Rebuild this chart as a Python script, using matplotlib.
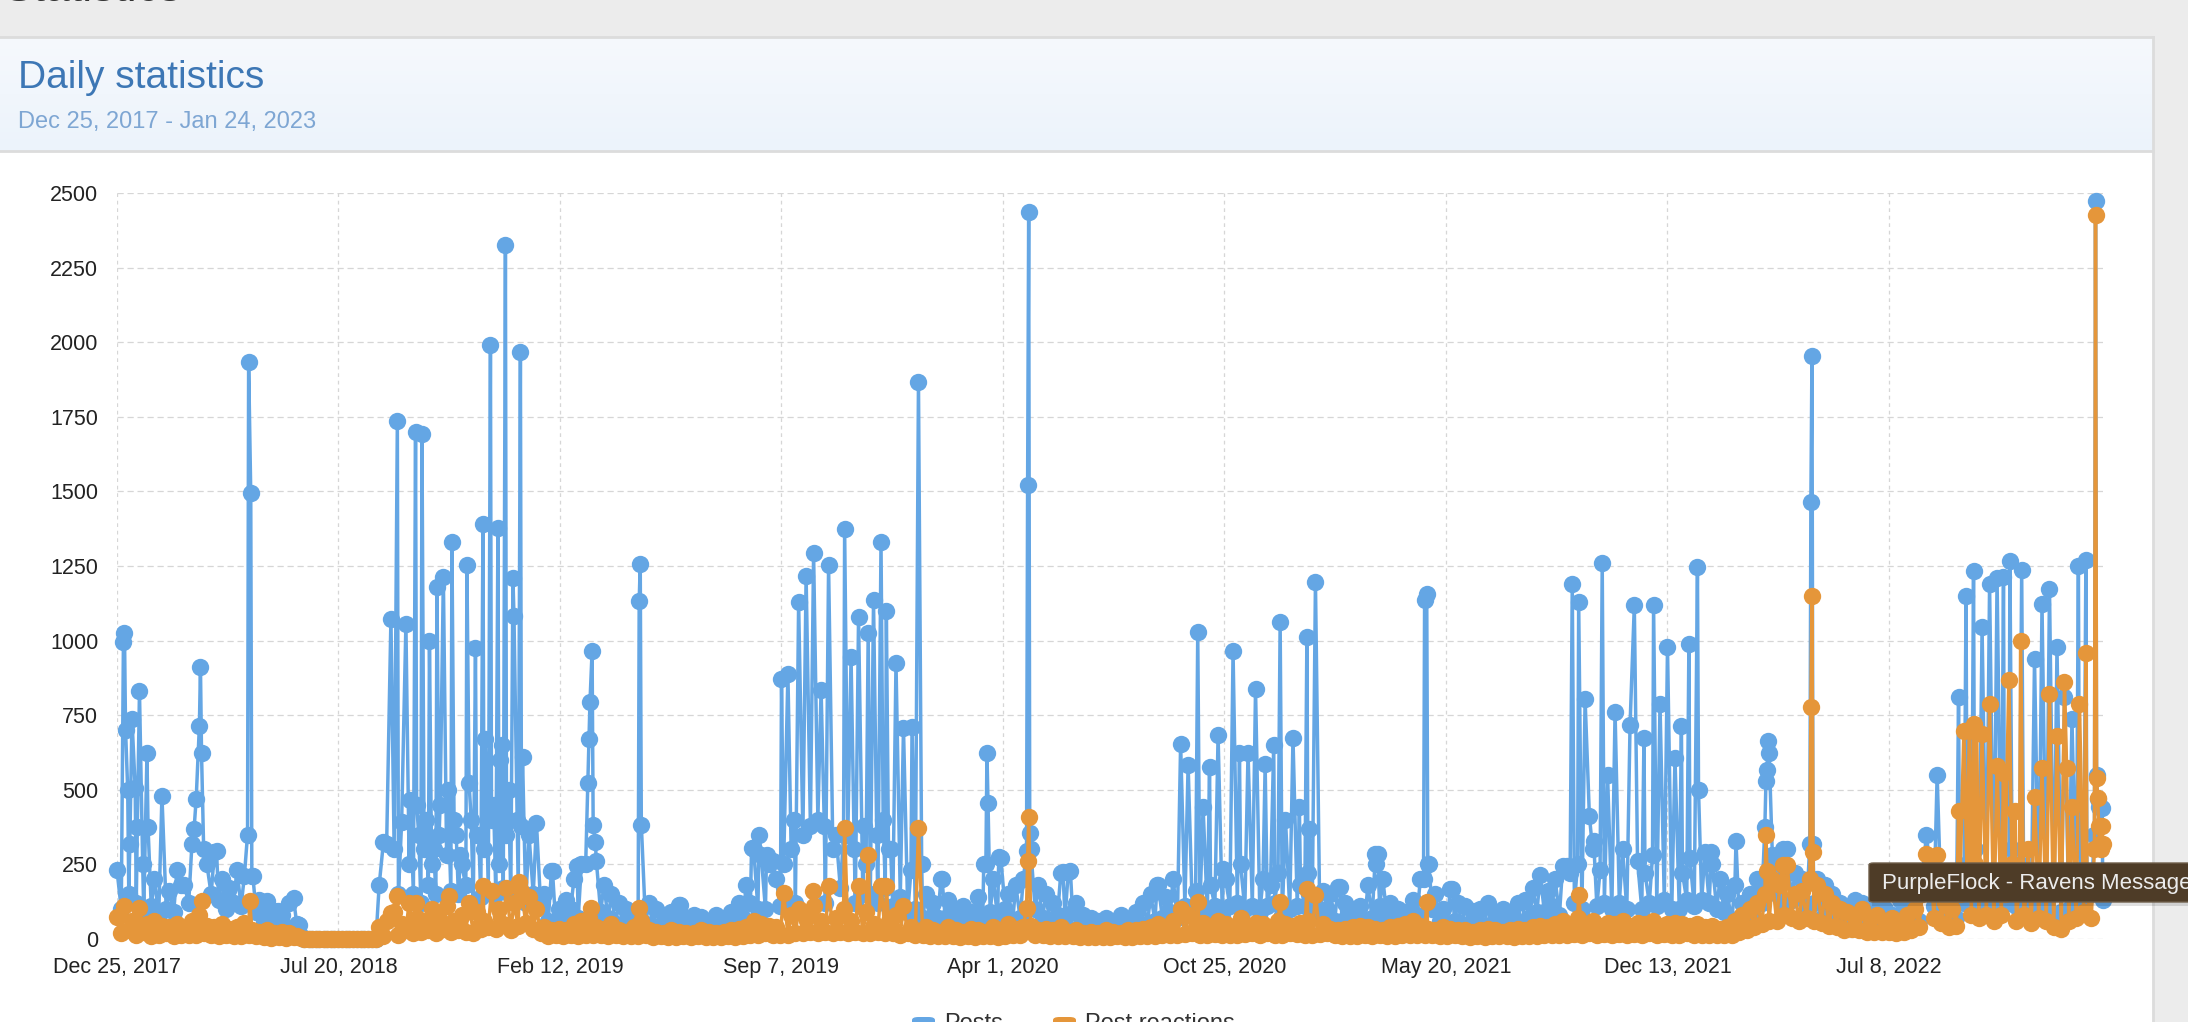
import numpy as np
import matplotlib
matplotlib.use('Agg')
import matplotlib.pyplot as plt
from matplotlib.patches import Rectangle, FancyBboxPatch
from matplotlib.lines import Line2D

# ---------------- data ----------------
START = np.datetime64('2017-12-25')
LAST_DAY = 1856

# upper edge of the daily band, one value every 7 days from the start
posts_weekly = [
    230, 350, 180, 280, 140, 200, 120, 160, 230, 180,
    300, 360, 250, 290, 200, 170, 230, 210, 210, 130,
    100, 95, 80, 120, 50, 0, 0, 0, 0, 0,
    0, 0, 0, 0, 0, 180, 320, 200, 380, 250,
    450, 300, 250, 350, 280, 400, 250, 300, 350, 300,
    400, 250, 350, 300, 380, 250, 390, 150, 227, 100,
    130, 200, 250, 300, 260, 180, 150, 120, 100, 90,
    200, 120, 100, 80, 90, 115, 70, 80, 75, 60,
    80, 70, 90, 120, 180, 300, 280, 250, 200, 250,
    300, 380, 250, 350, 300, 400, 280, 350, 300, 380,
    250, 330, 280, 300, 250, 200, 230, 200, 150, 120,
    200, 130, 100, 110, 90, 140, 250, 200, 270, 150,
    180, 200, 300, 180, 150, 120, 220, 225, 120, 80,
    70, 60, 70, 60, 80, 60, 90, 120, 150, 182,
    140, 200, 180, 220, 160, 250, 180, 235, 200, 180,
    250, 170, 240, 200, 180, 220, 260, 200, 180, 220,
    250, 160, 150, 174, 120, 100, 110, 180, 285, 200,
    120, 100, 90, 130, 200, 250, 150, 100, 169, 120,
    110, 95, 100, 120, 90, 100, 80, 120, 130, 170,
    214, 160, 200, 243, 220, 250, 200, 300, 230, 280,
    200, 250, 180, 260, 220, 280, 200, 240, 250, 220,
    270, 230, 293, 250, 200, 150, 180, 120, 150, 200,
    300, 280, 250, 301, 220, 200, 317, 200, 180, 150,
    120, 100, 130, 120, 90, 110, 100, 80, 130, 120,
    150, 200, 250, 200, 150, 180, 200, 250, 300, 200,
    250, 280, 200, 300, 250, 200, 150, 250, 200, 100,
    150, 250, 300, 200, 350, 440,
]
# lower edge of the daily band, in the middle of each week (day 7*w + 4)
posts_midweek = [
    100, 150, 120, 90, 110, 80, 100, 90, 110, 120,
    150, 180, 150, 130, 100, 120, 110, 100, 90, 60,
    50, 60, 40, 40, 10, 0, 0, 0, 0, 0,
    0, 0, 0, 0, 0, 60, 120, 150, 100, 150,
    120, 180, 150, 100, 160, 150, 180, 120, 140, 160,
    150, 170, 140, 160, 120, 150, 110, 60, 50, 80,
    100, 70, 100, 110, 90, 70, 50, 40, 70, 60,
    50, 45, 40, 30, 50, 35, 30, 30, 40, 45,
    30, 45, 50, 70, 120, 100, 100, 140, 110, 100,
    120, 150, 160, 140, 120, 150, 170, 150, 120, 150,
    150, 120, 170, 110, 140, 90, 100, 70, 60, 70,
    70, 45, 60, 40, 60, 50, 90, 70, 100, 60,
    70, 120, 100, 70, 50, 80, 70, 90, 45, 35,
    30, 40, 25, 35, 30, 35, 40, 50, 60, 70,
    90, 70, 110, 90, 100, 90, 110, 80, 110, 120,
    100, 110, 90, 110, 120, 80, 100, 110, 110, 100,
    90, 100, 60, 60, 70, 45, 60, 70, 110, 70,
    50, 40, 55, 80, 90, 100, 60, 45, 60, 50,
    45, 55, 40, 50, 55, 40, 50, 45, 70, 90,
    90, 110, 80, 100, 120, 100, 140, 110, 120, 100,
    120, 100, 130, 100, 120, 110, 130, 100, 100, 130,
    110, 130, 120, 100, 90, 60, 70, 70, 60, 120,
    120, 150, 110, 130, 140, 110, 120, 70, 100, 60,
    50, 60, 50, 45, 55, 40, 60, 50, 45, 50,
    60, 90, 110, 80, 90, 70, 120, 110, 120, 110,
    100, 110, 120, 110, 100, 120, 100, 110, 70, 90,
    100, 110, 120, 150, 150, 200,
]
reactions_weekly = [
    75, 100, 60, 90, 50, 60, 45, 40, 50, 35,
    60, 80, 45, 40, 50, 35, 40, 55, 30, 25,
    30, 20, 25, 20, 10, 0, 0, 0, 0, 0,
    0, 0, 0, 0, 0, 40, 60, 90, 50, 120,
    70, 60, 100, 70, 110, 60, 80, 120, 90, 60,
    150, 100, 170, 120, 160, 140, 100, 40, 30, 35,
    30, 50, 60, 70, 40, 35, 50, 30, 25, 40,
    60, 30, 25, 20, 30, 25, 20, 20, 30, 25,
    20, 25, 30, 35, 40, 60, 50, 45, 40, 60,
    80, 100, 70, 110, 60, 90, 70, 100, 60, 80,
    90, 50, 70, 60, 80, 50, 40, 60, 40, 30,
    25, 40, 30, 25, 35, 30, 25, 40, 30, 50,
    35, 40, 45, 30, 35, 30, 40, 25, 30, 20,
    25, 20, 30, 25, 20, 30, 30, 35, 40, 50,
    35, 60, 45, 80, 40, 55, 45, 60, 50, 40,
    70, 45, 55, 50, 40, 60, 50, 45, 55, 60,
    70, 50, 35, 30, 35, 40, 45, 40, 35, 30,
    40, 45, 50, 60, 45, 35, 30, 40, 35, 30,
    30, 25, 30, 35, 30, 25, 30, 35, 30, 40,
    45, 40, 50, 60, 45, 70, 50, 60, 45, 55,
    50, 60, 45, 55, 50, 60, 45, 50, 55, 50,
    45, 50, 40, 45, 35, 40, 60, 80, 100, 120,
    150, 200, 180, 247, 150, 160, 200, 180, 150, 120,
    100, 90, 80, 100, 70, 80, 60, 70, 60, 80,
    100, 150, 180, 200, 120, 100, 150, 200, 250, 180,
    220, 200, 150, 250, 200, 180, 150, 200, 150, 62,
    150, 180, 200, 150, 300, 380,
]
reactions_midweek = [
    20, 30, 15, 25, 10, 15, 20, 10, 15, 15,
    15, 20, 15, 10, 15, 10, 10, 15, 10, 8,
    5, 8, 5, 8, 2, 0, 0, 0, 0, 0,
    0, 0, 0, 0, 0, 10, 20, 15, 30, 20,
    25, 30, 20, 35, 25, 30, 25, 20, 35, 40,
    35, 50, 30, 45, 55, 35, 20, 10, 12, 10,
    12, 10, 15, 12, 15, 10, 12, 10, 10, 10,
    12, 8, 10, 8, 6, 10, 8, 10, 6, 8,
    8, 10, 6, 10, 15, 12, 20, 15, 15, 15,
    20, 20, 25, 20, 25, 20, 25, 20, 25, 20,
    20, 25, 20, 20, 15, 20, 15, 12, 10, 10,
    10, 10, 8, 10, 8, 10, 10, 8, 10, 12,
    12, 10, 15, 12, 10, 10, 10, 10, 8, 8,
    6, 8, 6, 10, 8, 8, 10, 10, 10, 15,
    15, 15, 18, 20, 15, 15, 18, 15, 15, 15,
    18, 20, 15, 20, 15, 15, 20, 18, 15, 15,
    18, 20, 15, 10, 10, 10, 12, 10, 12, 10,
    10, 12, 15, 15, 12, 12, 10, 10, 12, 10,
    8, 10, 8, 10, 10, 10, 8, 10, 10, 10,
    12, 15, 15, 15, 18, 15, 20, 15, 18, 15,
    18, 15, 18, 15, 20, 15, 18, 15, 15, 20,
    15, 15, 15, 12, 12, 15, 25, 30, 40, 50,
    60, 60, 80, 70, 60, 70, 60, 55, 45, 40,
    30, 35, 30, 25, 25, 25, 25, 20, 25, 30,
    40, 60, 70, 55, 40, 45, 60, 80, 70, 80,
    60, 80, 70, 60, 80, 55, 70, 60, 40, 35,
    60, 70, 90, 70, 100, 120,
]

# individual days that stand out (day offset from start, value)
posts_spike_days = [
    6, 7, 8, 10, 12, 14, 17, 19, 21, 24, 28, 29, 42, 60, 70, 72, 74, 77, 78, 79, 81, 93,
    122, 123, 125, 127, 140, 150, 165, 170,
    249, 256, 259, 262, 266, 270, 274, 279, 282, 285, 289, 292, 296, 299, 302, 305, 309,
    313, 317, 321, 327, 329, 331, 335, 338, 342, 344, 349, 352, 356, 358, 360, 363, 366,
    370, 371, 374, 377, 379, 385, 392,
    407, 430, 438, 440, 441, 442, 444, 445, 447, 488, 489, 490, 526, 593, 600, 607, 613,
    621, 627,
    633, 637, 641, 644, 648, 651, 655, 658, 661, 665, 669, 672, 680, 683, 686, 689, 693,
    698, 702, 707, 710, 714, 716, 719, 723, 728, 735, 743, 749, 752, 771,
    810, 813, 814, 824, 850, 851, 852, 853, 884, 891,
    972, 994, 1001, 1010, 1015, 1021, 1029, 1034, 1043, 1049, 1057, 1064, 1073, 1081,
    1087, 1092, 1099, 1105, 1112, 1114, 1120, 1143, 1177, 1178, 1221, 1222, 1224, 1226,
    1248,
    1330, 1355, 1360, 1366, 1372, 1376, 1380, 1388, 1393, 1400, 1407, 1414, 1418, 1427,
    1436, 1442, 1449, 1456, 1462, 1469, 1477, 1478, 1490, 1513, 1540, 1541, 1542, 1543,
    1544, 1557, 1583, 1584, 1585,
    1691, 1701, 1721, 1728, 1735, 1743, 1750, 1757, 1763, 1769, 1780, 1792, 1799, 1806,
    1813, 1820, 1827, 1833, 1840, 1849, 1850, 1851, 1852, 1853, 1854, 1855, 1856,
]
posts_spike_vals = [
    995, 1025, 700, 500, 320, 737, 506, 375, 830, 250, 622, 375, 480, 180, 317, 367, 470, 715, 913, 622, 300, 296,
    350, 1932, 1493, 210, 128, 95, 136, 46,
    325, 1074, 300, 1735, 391, 1057, 465, 1699, 350, 1691, 400, 1000, 300, 1178, 450, 1214, 500,
    1332, 350, 280, 1255, 523, 400, 975, 350, 1390, 670, 1992, 450, 1378, 600, 650, 2327, 500,
    1211, 1082, 400, 1967, 610, 350, 388,
    227, 243, 250, 523, 671, 793, 965, 383, 326, 1132, 1258, 383, 115, 306, 350, 280, 260,
    872, 888,
    400, 1128, 350, 1217, 380, 1293, 400, 836, 380, 1252, 300, 350, 1373, 350, 946, 300, 1079,
    378, 1025, 1135, 350, 1329, 400, 1099, 300, 926, 707, 712, 1867, 250, 202,
    252, 625, 457, 276, 296, 1521, 2436, 354, 224, 227,
    182, 655, 584, 1028, 441, 577, 683, 235, 964, 622, 625, 839, 586, 651,
    1062, 400, 674, 441, 1012, 367, 1197, 174, 252, 285, 202, 1135, 1156, 252,
    169,
    214, 243, 1189, 1128, 803, 413, 329, 1260, 548, 762, 300, 717, 1118, 674,
    1120, 789, 979, 605, 715, 990, 1247, 498, 293, 329, 375, 528, 567, 663,
    625, 301, 1466, 1954, 317,
    350, 551, 811, 1148, 1234, 1044, 1189, 1209, 1214, 1266, 1238, 938, 1122, 1173,
    980, 811, 737, 1250, 1271, 2472, 548, 470, 441, 378, 320, 440, 130,
]
reactions_spike_days = [
    7, 21, 79, 124,
    256, 262, 279, 310, 342, 350, 364, 376,
    443, 488, 623,
    650, 665, 680, 693, 702, 714, 719, 735, 749,
    850, 851, 852,
    994, 1010, 1087, 1112, 1120, 1224,
    1366, 1541, 1542, 1557,
    1583, 1584, 1585,
    1691, 1695, 1701, 1721, 1726, 1731, 1735, 1738, 1743, 1750, 1757, 1763, 1768, 1774,
    1779, 1786, 1792, 1799, 1806, 1813, 1820, 1822, 1827, 1834, 1840, 1849, 1850, 1851,
    1852, 1853, 1854, 1855, 1856,
]
reactions_spike_vals = [
    112, 104, 128, 128,
    87, 145, 120, 145, 178, 161, 170, 190,
    104, 104, 153,
    161, 178, 372, 178, 281, 178, 178, 112, 372,
    104, 263, 408,
    100, 125, 125, 169, 148, 125,
    148, 350, 227, 247,
    778, 1150, 293,
    285, 270, 280, 428, 696, 700, 720, 690, 688, 786, 581, 556, 868, 428,
    997, 300, 477, 572, 822, 679, 860, 572, 441, 789, 959, 2426, 540, 474,
    378, 317, 300, 380, 320,
]

tick_days = [0, 207, 414, 621, 828, 1035, 1242, 1449, 1656]
tick_labels = ['Dec 25, 2017', 'Jul 20, 2018', 'Feb 12, 2019', 'Sep 7, 2019',
               'Apr 1, 2020', 'Oct 25, 2020', 'May 20, 2021', 'Dec 13, 2021',
               'Jul 8, 2022']
y_ticks = [0, 250, 500, 750, 1000, 1250, 1500, 1750, 2000, 2250, 2500]
series_names = ['Posts', 'Post reactions']
title_text = 'Daily statistics'
subtitle_text = 'Dec 25, 2017 - Jan 24, 2023'
tooltip_text = 'PurpleFlock - Ravens Message Board'

BLUE = '#64a6e4'
ORANGE = '#e5963a'


def build(weekly, midweek, sdays, svals):
    d = {7 * i: v for i, v in enumerate(weekly)}
    for i, v in enumerate(midweek):
        if 7 * i + 4 <= LAST_DAY:
            d[7 * i + 4] = v
    d.update(dict(zip(sdays, svals)))
    days = np.array(sorted(d))
    vals = np.array([d[k] for k in days], dtype=float)
    return START + days.astype('timedelta64[D]'), vals


posts_x, posts_y = build(posts_weekly, posts_midweek, posts_spike_days, posts_spike_vals)
react_x, react_y = build(reactions_weekly, reactions_midweek,
                         reactions_spike_days, reactions_spike_vals)

# ---------------- figure ----------------
W, H = 2188, 1022
plt.rcParams['font.family'] = ['Liberation Sans', 'DejaVu Sans']
fig = plt.figure(figsize=(W / 100, H / 100), dpi=100)
fig.patch.set_facecolor('#ececec')


def fx(px):
    return px / W


def fy(py):
    return 1 - py / H


panel_right = 2153
# white body
fig.add_artist(Rectangle((0, 0), fx(panel_right), fy(151), transform=fig.transFigure,
                         facecolor='white', edgecolor='none', zorder=-10))
# header gradient
hax = fig.add_axes([0, fy(151), fx(panel_right), fy(37) - fy(151)], zorder=-5)
grad = np.linspace(0, 1, 100)[:, None]
c_top = np.array([246, 249, 253]) / 255
c_bot = np.array([236, 243, 251]) / 255
img = c_top[None, None, :] * (1 - grad[..., None]) + c_bot[None, None, :] * grad[..., None]
img = np.repeat(img, 2, axis=1)
hax.imshow(img, aspect='auto', extent=[0, 1, 0, 1])
hax.set_axis_off()
# borders
bc = '#dcdcdc'
fig.add_artist(Line2D([0, fx(panel_right)], [fy(37), fy(37)], transform=fig.transFigure,
                      color=bc, lw=2.0, zorder=-4))
fig.add_artist(Line2D([0, fx(panel_right)], [fy(151), fy(151)], transform=fig.transFigure,
                      color=bc, lw=2.0, zorder=-4))
fig.add_artist(Line2D([fx(panel_right), fx(panel_right)], [0, fy(37)], transform=fig.transFigure,
                      color=bc, lw=2.0, zorder=-4))

# cut-off page heading at the very top
fig.text(fx(4), fy(1), 'Statistics', fontsize=32, color='#333333', va='baseline', ha='left')

fig.text(fx(18), fy(78), title_text, fontsize=28, color='#3d77b5', va='center', ha='left')
fig.text(fx(18), fy(122), subtitle_text, fontsize=17, color='#7ea6d3', va='center', ha='left')

# ---------------- chart ----------------
ax = fig.add_axes([fx(117), fy(939), fx(2103) - fx(117), fy(193) - fy(939)])
ax.set_facecolor('none')
for s in ax.spines.values():
    s.set_visible(False)

x0 = START
x1 = START + np.timedelta64(LAST_DAY, 'D')
ax.set_xlim(x0, x1)
ax.set_ylim(0, 2500)

grid_c = '#d6d6d6'
for v in y_ticks:
    ax.axhline(v, color=grid_c, lw=0.9, ls=(0, (5, 3)), zorder=0)
tick_dates = [START + np.timedelta64(d, 'D') for d in tick_days]
for t in tick_dates:
    ax.axvline(t, color=grid_c, lw=0.9, ls=(0, (3, 3)), zorder=0)

ax.set_yticks(y_ticks)
ax.set_yticklabels([str(v) for v in y_ticks])
ax.set_xticks(tick_dates)
ax.set_xticklabels(tick_labels)
ax.tick_params(axis='both', length=0, labelsize=15.5, colors='#222222')
ax.tick_params(axis='y', pad=13.5)
ax.tick_params(axis='x', pad=13)

ax.plot(posts_x, posts_y, color=BLUE, lw=2.5, marker='o', ms=12.5, mew=0,
        clip_on=False, zorder=3)
ax.plot(react_x, react_y, color=ORANGE, lw=2.5, marker='o', ms=12.5, mew=0,
        clip_on=False, zorder=4)

# ---------------- legend (cut at bottom edge) ----------------
for (sx, tx), name, col in zip([(912, 944), (1053, 1085)], series_names, [BLUE, ORANGE]):
    fig.add_artist(FancyBboxPatch((fx(sx), fy(1040)), fx(23), 23 / H,
                                  boxstyle='round,pad=0,rounding_size=0.003',
                                  transform=fig.transFigure, facecolor=col,
                                  edgecolor='none', zorder=5))
    fig.text(fx(tx), fy(1030), name, fontsize=17, color='#333333', va='baseline', ha='left')

# ---------------- tooltip ----------------
fig.add_artist(Rectangle((fx(1872), fy(906)), fx(340), 40 / H, transform=fig.transFigure,
                         facecolor='#000000', alpha=0.12, edgecolor='none', zorder=9))
fig.add_artist(FancyBboxPatch((fx(1869), fy(902)), fx(340), 39 / H,
                              boxstyle='round,pad=0,rounding_size=0.002',
                              transform=fig.transFigure, facecolor='#4e3c27',
                              edgecolor='#6e5e4a', lw=1.0, zorder=10))
fig.text(fx(1882), fy(883), tooltip_text, fontsize=16, color='#ececec',
         va='center', ha='left', zorder=11)

fig.savefig('out.png', dpi=100, facecolor=fig.get_facecolor())
